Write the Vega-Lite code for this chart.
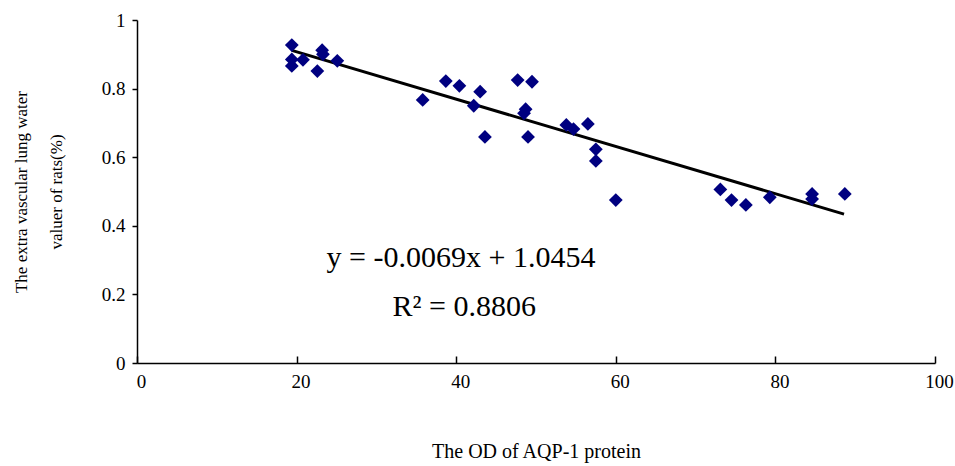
{
  "$schema": "https://vega.github.io/schema/vega-lite/v6.json",
  "width": 798,
  "height": 343,
  "autosize": "none",
  "padding": {"left": 137, "top": 20, "right": 20, "bottom": 103},
  "background": "white",
  "config": {
    "view": {"stroke": null},
    "font": "Liberation Serif",
    "axis": {"grid": false, "domainColor": "#000", "domainWidth": 1.5, "tickColor": "#000", "tickWidth": 1.5, "labelColor": "#000", "titleColor": "#000", "labelFont": "Liberation Serif", "titleFont": "Liberation Serif", "labelFontSize": 19, "titleFontSize": 18, "titleFontWeight": "normal"}
  },
  "datasets": {
    "pts": [
      {"od": 19.4, "elw": 0.927},
      {"od": 19.4, "elw": 0.885},
      {"od": 19.4, "elw": 0.866},
      {"od": 20.8, "elw": 0.884},
      {"od": 22.6, "elw": 0.851},
      {"od": 23.2, "elw": 0.912},
      {"od": 23.3, "elw": 0.9},
      {"od": 25.1, "elw": 0.881},
      {"od": 35.8, "elw": 0.767},
      {"od": 38.7, "elw": 0.822},
      {"od": 40.4, "elw": 0.808},
      {"od": 43.0, "elw": 0.791},
      {"od": 42.2, "elw": 0.75},
      {"od": 43.6, "elw": 0.659},
      {"od": 47.7, "elw": 0.825},
      {"od": 49.5, "elw": 0.82},
      {"od": 48.7, "elw": 0.74},
      {"od": 48.5, "elw": 0.728},
      {"od": 49.0, "elw": 0.659},
      {"od": 53.8, "elw": 0.694},
      {"od": 54.7, "elw": 0.682},
      {"od": 56.5, "elw": 0.697},
      {"od": 57.5, "elw": 0.623},
      {"od": 57.5, "elw": 0.589},
      {"od": 60.0, "elw": 0.475},
      {"od": 73.1, "elw": 0.506},
      {"od": 74.5, "elw": 0.475},
      {"od": 76.3, "elw": 0.461},
      {"od": 79.3, "elw": 0.483},
      {"od": 84.6, "elw": 0.493},
      {"od": 84.6, "elw": 0.478},
      {"od": 88.7, "elw": 0.493}
    ],
    "fit": [
      {"od": 19.4, "elw": 0.9115},
      {"od": 88.6, "elw": 0.434}
    ],
    "notes": [
      {"od": 40.6, "elw": 0.306, "label": "y = -0.0069x + 1.0454"},
      {"od": 41.0, "elw": 0.163, "label": "R² = 0.8806"}
    ]
  },
  "layer": [
    {
      "data": {"name": "fit"},
      "mark": {"type": "line", "color": "#000", "strokeWidth": 3},
      "encoding": {
        "x": {"field": "od", "type": "quantitative", "scale": {"domain": [0, 100], "nice": false},
          "axis": {"values": [0, 20, 40, 60, 80, 100], "format": "d", "tickSize": -7, "labelPadding": 16, "title": "The OD of AQP-1 protein", "titleFontSize": 20, "titlePadding": 50, "labelAlign": "center", "labelOffset": 4}},
        "y": {"field": "elw", "type": "quantitative", "scale": {"domain": [0, 1], "nice": false},
          "axis": {"values": [0, 0.2, 0.4, 0.6, 0.8, 1], "format": "~g", "tickSize": 5, "labelPadding": 7, "title": ["The extra vascular lung water", "valuer of rats(%)"], "titleFontSize": 17, "titlePadding": 36, "titleLineHeight": 35}}
      }
    },
    {
      "data": {"name": "pts"},
      "mark": {"type": "point", "shape": "diamond", "filled": true, "color": "#000080", "size": 190, "opacity": 1},
      "encoding": {
        "x": {"field": "od", "type": "quantitative"},
        "y": {"field": "elw", "type": "quantitative"}
      }
    },
    {
      "data": {"name": "notes"},
      "mark": {"type": "text", "font": "Liberation Serif", "fontSize": 30, "color": "#000", "align": "center", "baseline": "middle"},
      "encoding": {
        "x": {"field": "od", "type": "quantitative"},
        "y": {"field": "elw", "type": "quantitative"},
        "text": {"field": "label"}
      }
    }
  ]
}
